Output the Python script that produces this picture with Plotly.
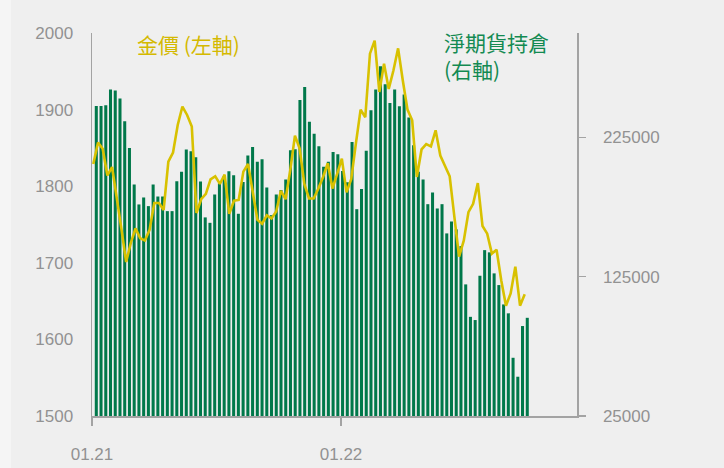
import plotly.graph_objects as go

# ---- data ----
net_positions = [
    247600, 247600, 248100, 259400, 258700, 252900, 236700, 217500, 191200, 176900, 181900, 175700, 191200, 182600,
    182600, 172100, 172100, 193600, 200300, 216400, 215100, 210800, 193400, 167600, 163700, 184100, 192200, 197400, 200800, 197900,
    170200, 193100, 212100, 218200, 207500, 209400, 189100, 169200, 184100, 187200, 194800, 215900, 216600, 251900, 261300,
    236200, 227600, 218700, 203900, 207500, 214600, 213000, 201000, 192900, 221800, 173500, 187900, 215400, 244600, 259400, 276100,
    263200, 249800, 259400, 247400, 255800, 239300, 219400, 200300, 194800, 177100, 185500, 174000, 177100, 156100, 164600,
    159000, 147000, 119500, 96200, 93900, 125700, 144100, 142500, 127400, 119000, 105100, 98700, 66800, 53200, 89600, 95500,
]
gold_price = [
    1829, 1857, 1849, 1814, 1825, 1787, 1744, 1701, 1726, 1745, 1732, 1729, 1743, 1778, 1778, 1769,
    1832, 1844, 1880, 1904, 1893, 1878, 1765, 1783, 1790, 1809, 1813, 1803, 1815, 1764, 1781, 1782,
    1819, 1829, 1792, 1756, 1751, 1762, 1758, 1767, 1794, 1783, 1821, 1866, 1849, 1803, 1784, 1784,
    1797, 1812, 1830, 1797, 1816, 1836, 1792, 1809, 1856, 1900, 1890, 1973, 1990, 1923, 1960, 1927,
    1951, 1980, 1938, 1900, 1886, 1812, 1848, 1855, 1852, 1873, 1840, 1827, 1813, 1760, 1708, 1729,
    1766, 1777, 1804, 1748, 1738, 1712, 1717, 1677, 1644, 1660, 1695, 1644, 1659,
]
x_tick_labels = ["01.21", "01.22"]
left_ticks = [1500, 1600, 1700, 1800, 1900, 2000]
right_ticks = [25000, 125000, 225000]
gold_label = "金價 (左軸)"
pos_label = "淨期貨持倉<br>(右軸)"

# ---- positions (week index units) ----
bar_x = list(range(len(net_positions)))
g_start, g_end = -0.63, 90.46
n_g = len(gold_price)
gold_x = [g_start + (g_end - g_start) * k / (n_g - 1) for k in range(n_g)]
x_range = [-0.908, 101.5]
tick_positions = [-0.908, 51.67]

GREEN = "#00784a"
GOLD = "#d8c100"
GREY_TXT = "#929292"
AXIS = "#a3a3a3"
FONT = "Liberation Sans, Arial, sans-serif"
CJK = "Noto Sans CJK TC, Noto Sans CJK SC, sans-serif"

fig = go.Figure()
fig.add_trace(go.Bar(
    x=bar_x, y=net_positions, marker=dict(color=GREEN, line=dict(width=0)),
    yaxis="y", showlegend=False, hoverinfo="skip",
))
fig.add_trace(go.Scatter(
    x=gold_x, y=gold_price, mode="lines", line=dict(color=GOLD, width=2.6),
    yaxis="y2", showlegend=False, hoverinfo="skip",
))

fig.update_layout(
    width=724, height=468, autosize=False,
    margin=dict(l=92, r=147, t=33, b=52, pad=0, autoexpand=False),
    paper_bgcolor="#efefef", plot_bgcolor="#efefef",
    bargap=0.36,
    font=dict(family=FONT, size=17, color=GREY_TXT),
    xaxis=dict(
        range=x_range, showgrid=False, zeroline=False, automargin=False,
        showline=True, linecolor=AXIS, linewidth=1.5,
        tickmode="array", tickvals=tick_positions, ticktext=x_tick_labels,
        ticks="outside", ticklen=8, tickcolor=AXIS, tickwidth=1.5,
        ticklabelstandoff=14,
        tickfont=dict(family=FONT, size=17, color=GREY_TXT),
    ),
    yaxis=dict(
        side="right", range=[25000, 300000], showgrid=False, zeroline=False, automargin=False,
        showline=True, linecolor=AXIS, linewidth=1.5,
        tickmode="array", tickvals=right_ticks, ticktext=[str(v) for v in right_ticks],
        ticks="outside", ticklen=7, tickcolor=AXIS, tickwidth=1.5,
        ticklabelstandoff=14,
        tickfont=dict(family=FONT, size=17, color=GREY_TXT),
    ),
    yaxis2=dict(
        side="left", overlaying="y", range=[1500, 2000], showgrid=False, zeroline=False, automargin=False,
        showline=True, linecolor=AXIS, linewidth=1.5,
        tickmode="array", tickvals=left_ticks, ticktext=[str(v) for v in left_ticks],
        ticks="", ticklabelstandoff=14,
        tickfont=dict(family=FONT, size=17, color=GREY_TXT),
    ),
    shapes=[dict(type="rect", xref="paper", yref="paper", x0=-92/485, x1=-81/485, y0=-52/383, y1=1+33/383,
                 fillcolor="#f5f5f5", line=dict(width=0), layer="below")],
    annotations=[
        dict(text=gold_label, xref="paper", yref="paper", x=(135-92)/485, y=(416-44)/383,
             xanchor="left", yanchor="middle", showarrow=False,
             font=dict(family=CJK, size=21, color="#d4b900")),
        dict(text=pos_label, xref="paper", yref="paper", x=(442-92)/485, y=(416-56)/383,
             xanchor="left", yanchor="middle", align="left", showarrow=False,
             font=dict(family=CJK, size=21, color="#138a52")),
    ],
)

fig.write_html(
    "out.html",
    config={"responsive": False, "displayModeBar": False, "staticPlot": True},
    post_script="document.body.style.margin='0';document.body.style.padding='0';document.body.style.overflow='hidden';",
)
